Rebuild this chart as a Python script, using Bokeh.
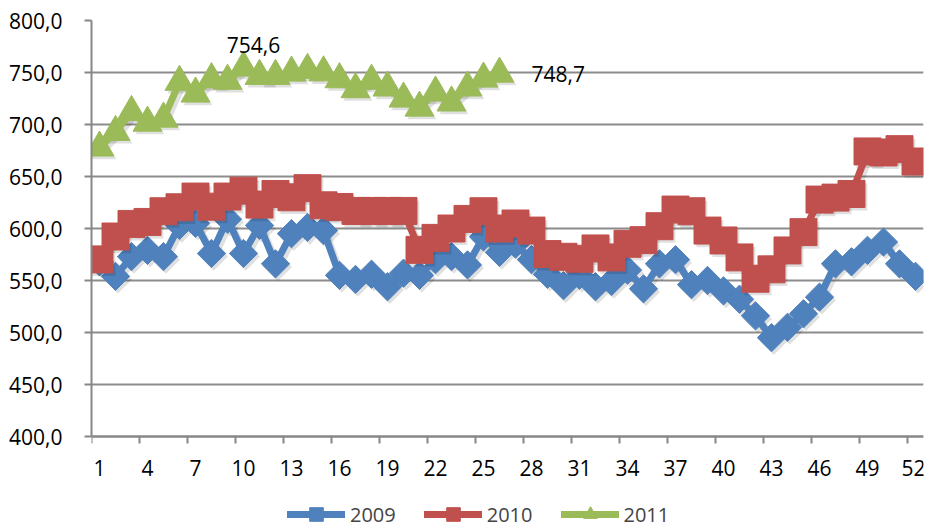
import numpy as np
from bokeh.plotting import figure
from bokeh.models import Range1d, FixedTicker, Legend, LegendItem, ColumnDataSource
from bokeh.core.properties import value
from bokeh.embed import file_html
from bokeh.resources import INLINE

weeks = list(range(1, 53))
y2009 = [568, 554, 573, 579, 573, 603, 605, 576, 609, 576, 603, 566, 595, 601, 598, 555,
         551, 556, 544, 557, 555, 570, 573, 565, 592, 577, 585, 570, 556, 545, 555, 544,
         549, 560, 542, 566, 570, 546, 550, 540, 532, 516, 495, 505, 518, 534, 566, 568,
         579, 587, 566, 554]
y2010 = [570.3, 592.3, 604.4, 606.3, 616.6, 620.4, 630.7, 621.0, 630.7, 636.4, 623.0, 633.2,
         630.0, 638.8, 622.3, 620.7, 616.9, 616.9, 616.9, 616.9, 579.5, 591.0, 600.0, 609.2,
         616.6, 600.0, 604.8, 598.0, 575.4, 572.8, 570.9, 580.8, 572.2, 585.3, 588.8, 602.2,
         618.2, 616.6, 598.0, 588.5, 572.2, 551.7, 560.7, 578.9, 596.5, 627.8, 629.7, 633.2,
         674.1, 673.1, 676.3, 664.4]
y2011 = [677.7, 692.7, 711.9, 701.6, 705.5, 740.9, 729.6, 743.4, 741.9, 754.6, 746.6, 746.6,
         749.8, 752.4, 750.0, 743.4, 733.8, 741.9, 735.4, 724.8, 716.1, 730.6, 721.0, 735.4,
         744.0, 748.7]
series_names = ["2009", "2010", "2011"]
x_tick_labels = [str(w) for w in range(1, 53, 3)]
y_ticks = [400, 450, 500, 550, 600, 650, 700, 750, 800]
labelled = [(10, "754,6"), (26, "748,7")]

FONT = "Open Sans"
colors = ["#4F81BD", "#C0504D", "#9BBB59"]
markers = ["square", "square", "triangle"]
angles = [np.pi / 4, 0, 0]
sizes = [20, 27, 29]

# layout: 400..800 occupies 416 px of the frame; frame continues down to hold the legend
Y_MIN, Y_MAX = y_ticks[0], y_ticks[-1]
PLOT_PX = 416
FRAME_H = 509
y_lo = Y_MAX - (Y_MAX - Y_MIN) * FRAME_H / PLOT_PX

p = figure(frame_width=832, frame_height=FRAME_H, output_backend="svg", toolbar_location=None,
           x_range=Range1d(0.5, 52.5), y_range=Range1d(y_lo, Y_MAX),
           min_border_left=91, min_border_right=2, min_border_top=20, min_border_bottom=0)
p.outline_line_color = None
p.background_fill_color = "white"

# axes
p.xaxis.fixed_location = Y_MIN
p.xaxis.ticker = FixedTicker(ticks=[int(t) for t in x_tick_labels],
                             minor_ticks=[int(t) - 0.5 for t in x_tick_labels])
p.xaxis.major_tick_out = 0
p.xaxis.major_tick_in = 0
p.xaxis.minor_tick_out = 7
p.xaxis.minor_tick_in = 0
p.xaxis.minor_tick_line_color = "#868686"
p.xaxis.minor_tick_line_width = 2
p.xaxis.major_label_standoff = 16
p.yaxis.ticker = FixedTicker(ticks=y_ticks)
p.yaxis.bounds = (Y_MIN, Y_MAX)
p.yaxis.major_label_overrides = {t: f"{t},0" for t in y_ticks}
p.yaxis.major_tick_out = 7
p.yaxis.major_tick_in = 0
p.yaxis.minor_tick_out = 0
p.yaxis.minor_tick_in = 0
p.yaxis.major_label_standoff = 22
for ax in (p.xaxis, p.yaxis):
    ax.axis_line_color = "#868686"
    ax.axis_line_width = 2
    ax.major_tick_line_color = "#868686"
    ax.major_tick_line_width = 2
    ax.major_label_text_font = FONT
    ax.major_label_text_font_size = "21px"
    ax.major_label_text_color = "#000000"
p.xgrid.grid_line_color = None
p.ygrid.grid_line_color = "#8C8C8C"
p.ygrid.grid_line_width = 2

data = [y2009, y2010, y2011]
items = []
for i, ys in enumerate(data):
    xs = weeks[:len(ys)]
    # soft shadow
    sh = ColumnDataSource(dict(x=[x + 0.15 for x in xs], y=[y - 3 for y in ys]))
    p.line("x", "y", source=sh, line_color="black", line_alpha=0.12, line_width=8,
           line_join="round")
    p.scatter("x", "y", source=sh, marker=markers[i], angle=angles[i], size=sizes[i],
              fill_color="black", fill_alpha=0.12, line_color=None)
    src = ColumnDataSource(dict(x=xs, y=ys))
    l = p.line("x", "y", source=src, line_color=colors[i], line_width=7, line_join="round",
               line_cap="round")
    s = p.scatter("x", "y", source=src, marker=markers[i], angle=angles[i], size=sizes[i],
                  fill_color=colors[i], line_color=colors[i], line_width=1)
    items.append(LegendItem(label=series_names[i], renderers=[l, s]))

# data labels
lab_src = ColumnDataSource(dict(x=[labelled[0][0]], y=[y2011[labelled[0][0] - 1]],
                                t=[labelled[0][1]]))
p.text("x", "y", text="t", source=lab_src, text_font=value(FONT), text_font_size="21px",
       text_align="center", text_baseline="middle", x_offset=10, y_offset=-23,
       text_color="black")
lab_src2 = ColumnDataSource(dict(x=[labelled[1][0]], y=[y2011[labelled[1][0] - 1]],
                                 t=[labelled[1][1]]))
p.text("x", "y", text="t", source=lab_src2, text_font=value(FONT), text_font_size="21px",
       text_align="left", text_baseline="middle", x_offset=32, y_offset=0,
       text_color="black")

legend = Legend(items=items, orientation="horizontal", location=(196, -2),
                label_text_font=FONT, label_text_font_size="20px",
                glyph_width=58, glyph_height=34, spacing=28, label_standoff=5,
                border_line_color=None, background_fill_alpha=0, padding=0, margin=0)
p.add_layout(legend, "center")

open("out.html", "w").write(file_html(p, INLINE))
